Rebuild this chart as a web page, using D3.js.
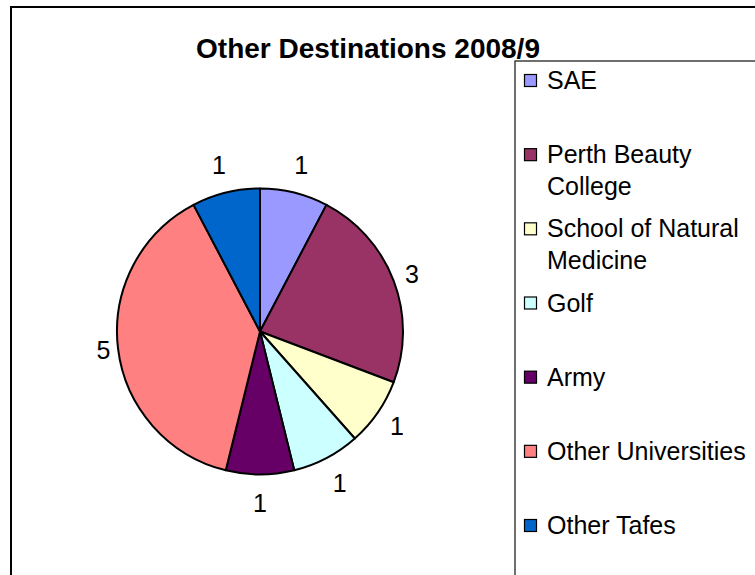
<!DOCTYPE html>
<html lang="en">
<head>
  <meta charset="UTF-8">
  <title>Other Destinations 2008/9</title>
  <script src="https://d3js.org/d3.v7.min.js"></script>
  <style>
    body { margin: 0; background: #fff; }
    svg { display: block; font-family: "Liberation Sans", Arial, sans-serif; }
  </style>
</head>
<body>
  <div id="chart"></div>

  <script>
    // Chart data
    const categories = ["SAE", "Perth Beauty College", "School of Natural Medicine", "Golf", "Army", "Other Universities", "Other Tafes"];
    const values = [1, 3, 1, 1, 1, 5, 1];
    const colors = ["#9999FF", "#993366", "#FFFFCC", "#CCFFFF", "#660066", "#FF8080", "#0066CC"];
    // Legend text broken into lines as in the original
    const legendLines = [["SAE"], ["Perth Beauty", "College"], ["School of Natural", "Medicine"], ["Golf"], ["Army"], ["Other Universities"], ["Other Tafes"]];

    const width = 755, height = 575;
    const cx = 260, cy = 331.5, radius = 143;

    const svg = d3.select("#chart").append("svg")
      .attr("width", width)
      .attr("height", height);

    // Outer chart frame (runs off the right and bottom edges)
    svg.append("rect")
      .attr("x", 11).attr("y", 7)
      .attr("width", 800).attr("height", 700)
      .attr("fill", "#fff")
      .attr("stroke", "#000")
      .attr("stroke-width", 2);

    // Title
    svg.append("text")
      .attr("x", 368).attr("y", 58)
      .attr("text-anchor", "middle")
      .attr("font-size", 28)
      .attr("font-weight", "bold")
      .text("Other Destinations 2008/9");

    // Legend box (drawn after title so its top line crosses the title like the original)
    const legend = svg.append("g");
    legend.append("rect")
      .attr("x", 515).attr("y", 61)
      .attr("width", 400).attr("height", 600)
      .attr("fill", "none")
      .attr("stroke", "#222")
      .attr("stroke-width", 1.3);

    const legendY = d3.scalePoint().domain(categories).range([80, 525]);

    const items = legend.selectAll(".item")
      .data(categories)
      .enter().append("g")
      .attr("transform", d => `translate(0,${legendY(d)})`);

    items.append("rect")
      .attr("x", 524.5).attr("y", -5.5)
      .attr("width", 12).attr("height", 12)
      .attr("fill", (d, i) => colors[i])
      .attr("stroke", "#000")
      .attr("stroke-width", 1.2);

    items.append("text")
      .attr("x", 547)
      .attr("font-size", 25)
      .selectAll("tspan")
      .data((d, i) => legendLines[i])
      .enter().append("tspan")
      .attr("x", 547)
      .attr("y", (d, j) => 9 + j * 32)
      .text(d => d);

    // Pie
    const pie = d3.pie().sort(null).value(d => d)(values);
    const arc = d3.arc().innerRadius(0).outerRadius(radius);

    const g = svg.append("g").attr("transform", `translate(${cx},${cy})`);

    g.selectAll("path")
      .data(pie)
      .enter().append("path")
      .attr("d", arc)
      .attr("fill", (d, i) => colors[i])
      .attr("stroke", "#000")
      .attr("stroke-width", 2)
      .attr("stroke-linejoin", "round");

    // Value labels, placed just outside the pie along each slice's mid angle
    const gap = 6, halfW = 6, halfH = 22;
    const labelPos = d => {
      const a = (d.startAngle + d.endAngle) / 2;
      const dist = radius + gap + Math.abs(Math.sin(a)) * halfW + Math.abs(Math.cos(a)) * halfH;
      return [Math.sin(a) * dist, -Math.cos(a) * dist];
    };
    g.selectAll(".label")
      .data(pie)
      .enter().append("text")
      .attr("font-size", 25)
      .attr("text-anchor", "middle")
      .attr("dy", "0.36em")
      .attr("x", d => labelPos(d)[0])
      .attr("y", d => labelPos(d)[1])
      .text(d => d.data);
  </script>
</body>
</html>
